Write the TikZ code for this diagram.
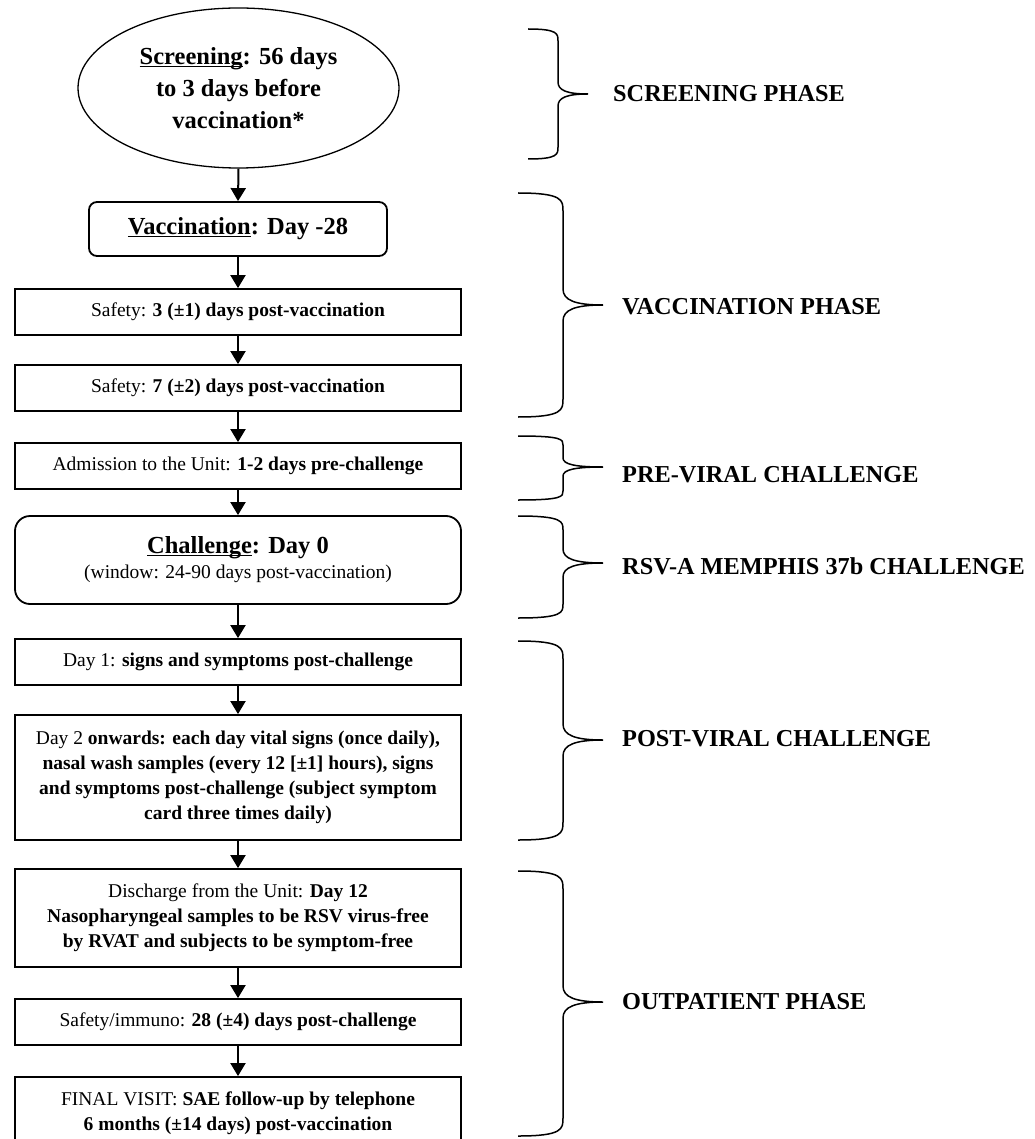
\documentclass[tikz,border=0pt]{standalone}
\usepackage{fontspec}
\setmainfont{Liberation Serif}
\usetikzlibrary{arrows.meta,shapes.geometric}
\newcommand{\myul}[1]{\underline{\smash{#1}}}
\tikzset{
  box/.style={draw, line width=1.8pt, minimum width=446pt, align=center, inner sep=0pt,
    font=\fontsize{19.5}{25}\selectfont},
  rbox/.style={box, rounded corners=#1},
  ell/.style={draw, ellipse, line width=1.3pt, minimum width=321pt, minimum height=160pt,
    inner sep=0pt, align=center, font=\fontsize{24.5}{32}\selectfont\bfseries},
  arr/.style={line width=2pt, -{Triangle[length=13pt,width=15pt]}},
  brc/.style={line width=1.5pt},
  phase/.style={anchor=west, inner sep=0pt, font=\fontsize{24.3}{28}\selectfont\bfseries}
}
% #1 L, #2 V, #3 T, #4 top, #5 mid, #6 bot, #7 end curve, #8 mid curve
\newcommand{\phbrace}[8]{%
  \draw[brc] (#1,#4) .. controls (#2,#4) and (#2,{#4+0.4*#7}) .. (#2,{#4+#7})
    -- (#2,{#5-#8}) .. controls (#2,{#5-0.3*#8}) and ({#2+0.3*(#3-#2)},#5) .. (#3,#5)
    .. controls ({#2+0.3*(#3-#2)},#5) and (#2,{#5+0.3*#8}) .. (#2,{#5+#8})
    -- (#2,{#6-#7}) .. controls (#2,{#6-0.4*#7}) and (#2,#6) .. (#1,#6);}
\begin{document}
\begin{tikzpicture}[x=1pt,y=-1pt]
\useasboundingbox (0,0) rectangle (1034,1139);
% flow nodes
\node[ell] (scr) at (238.5,88) {\myul{Screening}: 56 days\\to 3 days before\\vaccination*};
\node[rbox=8pt, minimum width=298pt, minimum height=54pt, font=\fontsize{24.5}{28}\selectfont\bfseries]
  (vac) at (238,229) {\myul{Vaccination}: Day -28};
\node[box, minimum height=46pt] (s3) at (238,312) {Safety: \textbf{3 (±1) days post-vaccination}};
\node[box, minimum height=46pt] (s7) at (238,388) {Safety: \textbf{7 (±2) days post-vaccination}};
\node[box, minimum height=46pt] (adm) at (238,466) {Admission to the Unit: \textbf{1-2 days pre-challenge}};
\node[rbox=15pt, minimum height=88pt] (cha) at (238,560)
  {{\fontsize{24.5}{28}\selectfont\bfseries\myul{Challenge}: Day 0}\\(window: 24-90 days post-vaccination)};
\node[box, minimum height=46pt] (d1) at (238,662) {Day 1: \textbf{signs and symptoms post-challenge}};
\node[box, minimum height=125pt] (d2) at (238,777.5)
  {Day 2 \textbf{onwards: each day vital signs (once daily),}\\
   \textbf{nasal wash samples (every 12 [±1] hours), signs}\\
   \textbf{and symptoms post-challenge (subject symptom}\\
   \textbf{card three times daily)}};
\node[box, minimum height=98pt] (dis) at (238,918)
  {Discharge from the Unit: \textbf{Day 12}\\
   \textbf{Nasopharyngeal samples to be RSV virus-free}\\
   \textbf{by RVAT and subjects to be symptom-free}};
\node[box, minimum height=46pt] (si) at (238,1022) {Safety/immuno: \textbf{28 (±4) days post-challenge}};
\node[box, minimum height=73pt] (fin) at (238,1113.5)
  {FINAL VISIT: \textbf{SAE follow-up by telephone}\\
   \textbf{6 months (±14 days) post-vaccination}};
% connectors
\draw[arr] (scr.south) -- (vac.north);
\draw[arr] (vac.south) -- (s3.north);
\draw[arr] (s3.south) -- (s7.north);
\draw[arr] (s7.south) -- (adm.north);
\draw[arr] (adm.south) -- (cha.north);
\draw[arr] (cha.south) -- (d1.north);
\draw[arr] (d1.south) -- (d2.north);
\draw[arr] (d2.south) -- (dis.north);
\draw[arr] (dis.south) -- (si.north);
\draw[arr] (si.south) -- (fin.north);
% braces
\phbrace{528}{558}{588}{29}{94}{159}{12}{12}
\phbrace{518}{563}{603}{193}{305}{417}{18}{16}
\phbrace{518}{563}{603}{436}{467}{500}{9}{9}
\phbrace{518}{563}{603}{516}{563}{618}{14}{14}
\phbrace{518}{563}{603}{641}{740}{840}{18}{16}
\phbrace{518}{563}{603}{871}{1002}{1136}{18}{16}
% phase labels
\node[phase] (p1) at (613,94) {SCREENING PHASE};
\node[phase] (p2) at (622,307) {VACCINATION PHASE};
\node[phase] (p3) at (622,475) {PRE-VIRAL CHALLENGE};
\node[phase] (p4) at (622,566) {RSV-A MEMPHIS 37b CHALLENGE};
\node[phase] (p5) at (622,739) {POST-VIRAL CHALLENGE};
\node[phase] (p6) at (622,1002) {OUTPATIENT PHASE};
\end{tikzpicture}
\end{document}
